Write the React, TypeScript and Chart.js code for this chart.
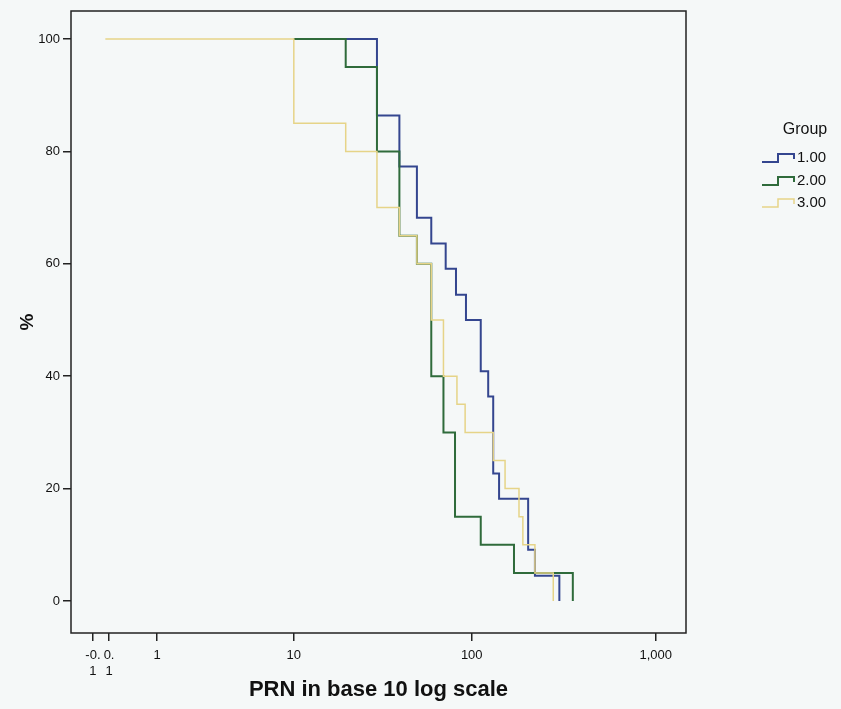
import React, { useEffect, useRef } from 'react';
import { Chart, registerables } from 'chart.js';

Chart.register(...registerables);

// ---- data ----
const xTickValues = [-0.1, 0.1, 1, 10, 100, 1000];
const xTickLabels: (string | string[])[] = [['-0.', '1'], ['0.', '1'], '1', '10', '100', '1,000'];
const yTickValues = [0, 20, 40, 60, 80, 100];

const groupNames = ['1.00', '2.00', '3.00'];

const group1X = [10, 30, 40, 50, 60, 72, 82, 93, 112, 123, 131, 141, 203, 221, 300];
const group1Y = [100, 86.4, 77.3, 68.2, 63.6, 59.1, 54.5, 50, 40.9, 36.4, 22.7, 18.2, 9.1, 4.5, 0];

const group2X = [10, 20, 30, 40, 50, 60, 70, 81, 112, 170, 355];
const group2Y = [100, 95, 80, 65, 60, 40, 30, 15, 10, 5, 0];

const group3X = [0.05, 10, 20, 30, 40, 50, 60, 70, 83, 92, 131, 152, 181, 190, 221, 278];
const group3Y = [100, 85, 80, 70, 65, 60, 50, 40, 35, 30, 25, 20, 15, 10, 5, 0];

const colors = ['#34468f', '#2f6b3b', '#e6d488'];
const widths = [2, 2, 1.5];

const FONT = '"Liberation Sans", Arial, Helvetica, sans-serif';

// SPSS "safe log" transform: log10(x + 1)
const tx = (v: number) => Math.log10(v + 1);

export default function App() {
  const ref = useRef<HTMLCanvasElement | null>(null);

  useEffect(() => {
    if (!ref.current) return;

    const toPts = (xs: number[], ys: number[]) => xs.map((x, i) => ({ x: tx(x), y: ys[i] }));
    const series = [
      toPts(group1X, group1Y),
      toPts(group2X, group2Y),
      toPts(group3X, group3Y),
    ];

    const bgPlugin = {
      id: 'bg',
      beforeDraw(chart: any) {
        const c = chart.ctx;
        c.save();
        c.fillStyle = '#f5f8f8';
        c.fillRect(0, 0, chart.width, chart.height);
        c.restore();
      },
    };

    const framePlugin = {
      id: 'frame',
      afterDraw(chart: any) {
        const { ctx, chartArea } = chart;
        ctx.save();
        ctx.strokeStyle = '#222';
        ctx.lineWidth = 1.5;
        ctx.strokeRect(chartArea.left, chartArea.top, chartArea.right - chartArea.left, chartArea.bottom - chartArea.top);

        // legend
        ctx.fillStyle = '#111';
        ctx.textBaseline = 'middle';
        ctx.textAlign = 'center';
        ctx.font = `16px ${FONT}`;
        ctx.fillText('Group', 805, 130);
        const ys = [158, 181, 203];
        groupNames.forEach((name, i) => {
          const y = ys[i];
          ctx.strokeStyle = colors[i];
          ctx.lineWidth = widths[i];
          ctx.beginPath();
          ctx.moveTo(762, y + 4);
          ctx.lineTo(778, y + 4);
          ctx.lineTo(778, y - 4);
          ctx.lineTo(794, y - 4);
          ctx.lineTo(794, y + 1);
          ctx.stroke();
          ctx.fillStyle = '#111';
          ctx.textAlign = 'left';
          ctx.font = `15px ${FONT}`;
          ctx.fillText(name, 797, y);
        });
        ctx.restore();
      },
    };

    const chart = new Chart(ref.current, {
      type: 'line',
      data: {
        datasets: series.map((d, i) => ({
          label: groupNames[i],
          data: d,
          borderColor: colors[i],
          backgroundColor: colors[i],
          borderWidth: widths[i],
          stepped: 'before',
          pointRadius: 0,
          fill: false,
          order: 2 - i,
        })),
      },
      options: {
        responsive: false,
        animation: false,
        events: [],
        layout: { padding: { left: 0, top: 11, right: 155, bottom: 0 } },
        plugins: {
          legend: { display: false },
          tooltip: { enabled: false },
        },
        scales: {
          x: {
            type: 'linear',
            min: -0.1646,
            max: 3.164,
            afterFit: (s: any) => { s.height = 76; },
            afterBuildTicks: (s: any) => {
              s.ticks = xTickValues.map((v) => ({ value: tx(v) }));
            },
            grid: { drawOnChartArea: false, drawTicks: true, tickLength: 8, color: '#222', lineWidth: 1.5 },
            border: { display: false },
            ticks: {
              autoSkip: false,
              maxRotation: 0,
              padding: 7,
              color: '#111',
              font: { family: FONT, size: 13 },
              callback: (_v: any, idx: number) => xTickLabels[idx],
            },
            title: {
              display: true,
              text: 'PRN in base 10 log scale',
              color: '#111',
              font: { family: FONT, size: 22, weight: 'bold' },
              padding: { top: 0, bottom: 6 },
            },
          },
          y: {
            type: 'linear',
            min: -5.694,
            max: 104.98,
            afterFit: (s: any) => { s.width = 71; },
            afterBuildTicks: (s: any) => {
              s.ticks = yTickValues.map((v) => ({ value: v }));
            },
            grid: { drawOnChartArea: false, drawTicks: true, tickLength: 8, color: '#222', lineWidth: 1.5 },
            border: { display: false },
            ticks: {
              padding: 3,
              color: '#111',
              font: { family: FONT, size: 13 },
              callback: (v: any) => String(v),
            },
            title: {
              display: true,
              text: '%',
              color: '#111',
              font: { family: FONT, size: 19, weight: 'bold' },
              padding: { top: 16, bottom: 0 },
            },
          },
        },
      },
      plugins: [bgPlugin, framePlugin],
    } as any);

    return () => chart.destroy();
  }, []);

  return (
    <div style={{ position: 'fixed', left: 0, top: 0, width: 841, height: 709, background: '#f5f8f8' }}>
      <canvas ref={ref} width={841} height={709} style={{ display: 'block', width: 841, height: 709 }} />
    </div>
  );
}
